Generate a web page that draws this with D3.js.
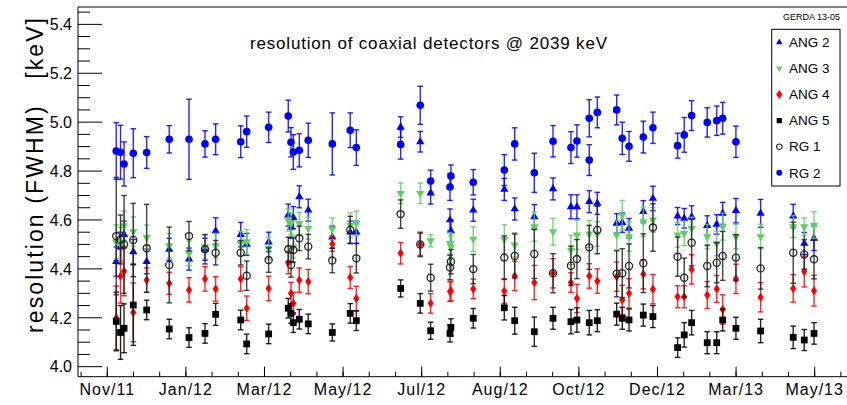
<!DOCTYPE html>
<html><head><meta charset="utf-8">
<script src="https://cdn.jsdelivr.net/npm/d3@7"></script>
<style>body{margin:0;background:#fff}text{font-family:"Liberation Sans",Arial,sans-serif;fill:#000}</style>
</head><body><svg id="c" width="847" height="405"></svg>
<script>
// ---- data (x in days) ----
const runDays = [9.9,13.2,15.9,23.0,33.3,50.7,65.9,78.2,86.4,105.7,110.3,127.2,142.3,144.4,146.2,150.8,157.7,176.2,190.0,194.7,228.8,243.9,251.9,266.8,267.5,284.7,308.6,316.6,331.7,346.1,359.9,364.5,374.0,380.2,395.1,399.4,404.6,415.6,423.0,442.0,447.1,452.8,464.8,472.1,476.7,486.9,505.9,531.0,539.5,547.0];
const ang2 = [4.43,4.49,4.54,4.47,4.43,4.48,4.44,4.48,4.555,4.54,4.50,4.51,4.62,4.57,4.61,4.695,4.64,4.53,4.55,4.55,4.98,4.92,4.71,4.60,4.556,4.64,4.725,4.645,4.613,4.727,4.654,4.654,4.675,4.668,4.586,4.589,4.566,4.634,4.688,4.616,4.607,4.613,4.577,4.582,4.627,4.638,4.627,4.616,4.504,4.525];
const ang2Err = [0.06,0.06,0.055,0.05,0.05,0.045,0.045,0.045,0.054,0.05,0.045,0.04,0.045,0.045,0.045,0.045,0.045,0.045,0.045,0.045,0.042,0.042,0.045,0.045,0.045,0.045,0.045,0.045,0.05,0.045,0.049,0.049,0.045,0.045,0.04,0.04,0.04,0.045,0.05,0.035,0.04,0.045,0.04,0.04,0.045,0.05,0.057,0.048,0.045,0.05];
const ang3 = [4.51,4.50,4.577,4.552,4.529,4.495,4.464,4.491,4.495,4.504,4.511,4.484,4.60,4.586,4.49,4.586,4.566,4.563,4.579,4.586,4.709,4.709,4.515,4.504,4.491,4.522,4.521,4.498,4.573,4.552,4.477,4.539,4.543,4.543,4.539,4.620,4.532,4.593,4.600,4.539,4.545,4.566,4.532,4.504,4.573,4.532,4.532,4.573,4.573,4.579];
const ang3Err = [0.07,0.07,0.06,0.06,0.05,0.05,0.05,0.05,0.05,0.05,0.05,0.045,0.045,0.045,0.045,0.045,0.045,0.045,0.05,0.05,0.042,0.042,0.025,0.045,0.045,0.05,0.06,0.05,0.06,0.055,0.06,0.06,0.055,0.05,0.06,0.06,0.06,0.06,0.05,0.05,0.05,0.045,0.05,0.05,0.055,0.05,0.05,0.045,0.035,0.055];
const ang4 = [4.20,4.37,4.39,4.222,4.354,4.341,4.314,4.359,4.318,4.359,4.239,4.320,4.425,4.300,4.259,4.354,4.348,4.502,4.365,4.279,4.464,4.500,4.259,4.307,4.31,4.318,4.309,4.371,4.344,4.382,4.344,4.279,4.371,4.350,4.368,4.273,4.300,4.378,4.317,4.286,4.286,4.398,4.293,4.318,4.234,4.359,4.284,4.320,4.389,4.311];
const ang4Err = [0.13,0.11,0.1,0.12,0.05,0.045,0.05,0.05,0.05,0.05,0.05,0.05,0.045,0.045,0.045,0.05,0.05,0.03,0.045,0.05,0.044,0.045,0.04,0.04,0.04,0.04,0.05,0.06,0.07,0.06,0.04,0.058,0.05,0.05,0.06,0.06,0.06,0.06,0.06,0.045,0.045,0.06,0.055,0.055,0.06,0.06,0.06,0.056,0.063,0.063];
const ang5 = [4.185,4.140,4.157,4.252,4.232,4.154,4.119,4.136,4.214,4.191,4.093,4.134,4.239,4.218,4.180,4.194,4.175,4.140,4.218,4.188,4.320,4.259,4.147,4.136,4.161,4.198,4.241,4.188,4.143,4.198,4.184,4.191,4.180,4.188,4.215,4.198,4.191,4.211,4.205,4.078,4.130,4.180,4.098,4.098,4.191,4.157,4.146,4.120,4.109,4.136];
const ang5Err = [0.12,0.11,0.1,0.165,0.04,0.04,0.04,0.04,0.045,0.04,0.04,0.04,0.04,0.04,0.04,0.04,0.04,0.035,0.04,0.04,0.035,0.04,0.035,0.035,0.035,0.04,0.05,0.055,0.06,0.045,0.05,0.05,0.05,0.045,0.045,0.045,0.045,0.045,0.045,0.04,0.05,0.05,0.045,0.045,0.045,0.045,0.048,0.046,0.043,0.044];
const rg1 = [4.534,4.52,4.50,4.518,4.484,4.416,4.534,4.480,4.466,4.466,4.372,4.436,4.480,4.416,4.477,4.525,4.491,4.434,4.559,4.443,4.624,4.500,4.364,4.406,4.429,4.399,4.446,4.453,4.461,4.382,4.413,4.440,4.488,4.559,4.380,4.382,4.412,4.423,4.569,4.450,4.364,4.507,4.412,4.425,4.453,4.446,4.402,4.466,4.459,4.439];
const rg1Err = [0.24,0.1,0.2,0.15,0.18,0.155,0.06,0.06,0.05,0.05,0.06,0.05,0.05,0.05,0.05,0.05,0.05,0.05,0.056,0.06,0.058,0.05,0.055,0.05,0.05,0.06,0.089,0.09,0.1,0.08,0.08,0.08,0.09,0.097,0.094,0.1,0.09,0.12,0.097,0.08,0.08,0.095,0.085,0.082,0.1,0.094,0.085,0.125,0.06,0.08];
const rg2Days = [9.9,13.2,15.9,23.0,33.3,50.7,65.9,78.2,86.4,105.7,110.3,127.2,142.3,144.4,146.2,150.8,157.7,176.2,190.0,194.7,228.8,243.9,251.9,266.8,267.5,284.7,308.6,316.6,331.7,346.1,359.9,364.5,374.0,374.0,380.2,395.1,399.4,404.6,415.6,423.0,442.0,447.1,452.8,464.8,472.1,476.7,486.9];
const rg2 = [4.882,4.877,4.829,4.873,4.876,4.930,4.930,4.911,4.930,4.920,4.961,4.979,5.025,4.918,4.878,4.885,4.926,4.911,4.967,4.896,4.909,5.069,4.759,4.735,4.780,4.754,4.804,4.911,4.793,4.922,4.896,4.923,5.016,4.845,5.040,5.050,4.934,4.901,4.939,4.977,4.904,4.948,5.027,4.999,5.006,5.016,4.920];
const rg2Err = [0.116,0.11,0.09,0.1,0.065,0.056,0.164,0.054,0.063,0.065,0.064,0.062,0.065,0.06,0.071,0.068,0.07,0.127,0.071,0.073,0.06,0.078,0.045,0.055,0.045,0.052,0.063,0.066,0.08,0.064,0.065,0.066,0.076,0.063,0.063,0.061,0.066,0.061,0.065,0.064,0.051,0.071,0.061,0.06,0.06,0.065,0.064];
const seriesNames = ["ANG 2","ANG 3","ANG 4","ANG 5","RG 1","RG 2"];
const xTickDays = [3,63.5,124,184.5,245,305.5,366,426.5,487,547.5];
const xTickLabels = ["Nov/11","Jan/12","Mar/12","May/12","Jul/12","Aug/12","Oct/12","Dec/12","Mar/13","May/13"];
const yTickValues = [4.0,4.2,4.4,4.6,4.8,5.0,5.2,5.4];
const titleText = "resolution of coaxial detectors @ 2039 keV";
const yLabelText = "resolution (FWHM)   [keV]";
const tagText = "GERDA 13-05";

// ---- layout ----
const L = 78, R = 850, T = 7, B = 376.7;
const svg = d3.select("#c");
const x = d3.scaleLinear().domain([-19.55, 574.7]).range([L, R]);
const y = d3.scaleLinear().domain([3.959, 5.471]).range([B, T]);

const blue = "#0000ff", green = "#5fcf5f", red = "#ff0000", black = "#000000";
const diamond = { draw(ctx, size) { const w = 3.1, h = 4.6; ctx.moveTo(0,-h); ctx.lineTo(w,0); ctx.lineTo(0,h); ctx.lineTo(-w,0); ctx.closePath(); } };
const series = [
  {name: seriesNames[0], xs: runDays, v: ang2, e: ang2Err, color: blue, sym: d3.symbolTriangle, size: 30, rot: 0, fill: true},
  {name: seriesNames[1], xs: runDays, v: ang3, e: ang3Err, color: green, sym: d3.symbolTriangle, size: 30, rot: 180, fill: true},
  {name: seriesNames[2], xs: runDays, v: ang4, e: ang4Err, color: red, sym: diamond, size: 30, rot: 0, fill: true},
  {name: seriesNames[3], xs: runDays, v: ang5, e: ang5Err, color: black, sym: d3.symbolSquare, size: 46, rot: 0, fill: true},
  {name: seriesNames[4], xs: runDays, v: rg1, e: rg1Err, color: "#222", sym: d3.symbolCircle, size: 40, rot: 0, fill: false},
  {name: seriesNames[5], xs: rg2Days, v: rg2, e: rg2Err, color: blue, sym: d3.symbolCircle, size: 46, rot: 0, fill: true}
];

// frame
svg.append("line").attr("x1", L).attr("x2", 847).attr("y1", T).attr("y2", T).attr("stroke", "#000").attr("stroke-width", 1);
svg.append("line").attr("x1", L).attr("x2", L).attr("y1", T).attr("y2", B).attr("stroke", "#000").attr("stroke-width", 1);
svg.append("line").attr("x1", L).attr("x2", 847).attr("y1", B).attr("y2", B).attr("stroke", "#000").attr("stroke-width", 1);

// y ticks
const yMinor = d3.range(4.0, 5.47, 0.05).map(v => +v.toFixed(2));
svg.append("g").selectAll("line").data(yMinor).join("line")
  .attr("x1", L).attr("x2", d => L + (yTickValues.some(t => Math.abs(t - d) < 1e-6) ? 24 : 12))
  .attr("y1", d => y(d)).attr("y2", d => y(d)).attr("stroke", "#000").attr("stroke-width", 1);
svg.append("g").selectAll("text").data(yTickValues).join("text")
  .attr("x", 72).attr("y", d => y(d)).attr("dy", "0.36em").attr("text-anchor", "end")
  .attr("font-size", 16).text(d => d.toFixed(1));

// x ticks
const step = xTickDays[1] - xTickDays[0];
const xMinor = [];
for (let t = xTickDays[0] - step; t <= 580; t += step / 3) xMinor.push(t);
svg.append("g").selectAll("line").data(xMinor.filter(t => x(t) >= L + 1 && x(t) <= 847)).join("line")
  .attr("x1", d => x(d)).attr("x2", d => x(d)).attr("y1", B).attr("y2", B - 5)
  .attr("stroke", "#000").attr("stroke-width", 1);
svg.append("g").selectAll("line").data(xTickDays).join("line")
  .attr("x1", d => x(d)).attr("x2", d => x(d)).attr("y1", B).attr("y2", B - 10)
  .attr("stroke", "#000").attr("stroke-width", 1);
svg.append("g").selectAll("text").data(xTickDays).join("text")
  .attr("x", d => x(d)).attr("y", 395).attr("text-anchor", "middle")
  .attr("font-size", 16).attr("letter-spacing", "1px").text((d, i) => xTickLabels[i]);

// data
const plot = svg.append("g");
series.forEach(s => {
  const g = plot.append("g");
  const pts = s.xs.map((d, i) => ({d, v: s.v[i], e: s.e[i]}));
  g.selectAll("line.bar").data(pts).join("line").attr("class", "bar")
    .attr("x1", p => x(p.d)).attr("x2", p => x(p.d))
    .attr("y1", p => y(p.v - p.e)).attr("y2", p => y(p.v + p.e))
    .attr("stroke", s.color).attr("stroke-width", 1.4).attr("opacity", 0.85);
  ["lo", "hi"].forEach(k => {
    g.selectAll("line.cap" + k).data(pts).join("line").attr("class", "cap" + k)
      .attr("x1", p => x(p.d) - 2.8).attr("x2", p => x(p.d) + 2.8)
      .attr("y1", p => y(k === "lo" ? p.v - p.e : p.v + p.e))
      .attr("y2", p => y(k === "lo" ? p.v - p.e : p.v + p.e))
      .attr("stroke", s.color).attr("stroke-width", 1.4).attr("opacity", 0.85);
  });
  const sym = d3.symbol().type(s.sym).size(s.size);
  g.selectAll("path").data(pts).join("path")
    .attr("d", sym)
    .attr("transform", p => `translate(${x(p.d)},${y(p.v)}) rotate(${s.rot})`)
    .attr("fill", s.fill ? s.color : "none")
    .attr("stroke", s.fill ? "none" : s.color).attr("stroke-width", s.fill ? 0 : 1.3);
});

// legend
const lg = svg.append("g");
lg.append("rect").attr("x", 771.7).attr("y", 29.3).attr("width", 68.3).attr("height", 156.7)
  .attr("fill", "#fff").attr("stroke", "#000").attr("stroke-width", 1);
series.forEach((s, i) => {
  const cy = 42.3 + i * 26.1;
  const sym = d3.symbol().type(s.sym).size(s.size * 0.6);
  lg.append("path").attr("d", sym).attr("transform", `translate(779.3,${cy}) rotate(${s.rot})`)
    .attr("fill", s.fill ? s.color : "none").attr("stroke", s.fill ? "none" : s.color).attr("stroke-width", s.fill ? 0 : 1.1);
  lg.append("text").attr("x", 789).attr("y", cy + 4.7).attr("font-size", 13.5).text(s.name);
});

// texts
svg.append("text").attr("x", 840).attr("y", 19.5).attr("text-anchor", "end").attr("font-size", 9).text(tagText);
svg.append("text").attr("x", 250).attr("y", 49.3).attr("font-size", 17)
  .attr("textLength", 357).attr("lengthAdjust", "spacing").text(titleText);
svg.append("text").attr("transform", "translate(43,175.5) rotate(-90)").attr("text-anchor", "middle")
  .attr("font-size", 23).style("white-space", "pre")
  .attr("textLength", 315).attr("lengthAdjust", "spacing").text(yLabelText);
</script></body></html>
